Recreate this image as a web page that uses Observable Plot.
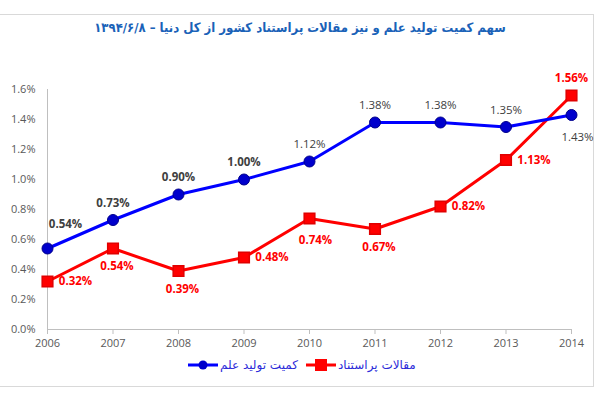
<!DOCTYPE html>
<html>
<head>
<meta charset="utf-8">
<script src="https://cdn.jsdelivr.net/npm/d3@7"></script>
<script src="https://cdn.jsdelivr.net/npm/@observablehq/plot@0.6"></script>
<style>
  html, body { margin: 0; padding: 0; background: #fff; }
  #wrap { position: relative; width: 600px; height: 400px; overflow: hidden; }
  #frame { position: absolute; left: -1px; top: 14px; width: 595px; height: 373px; border: 1px solid #d9d9d9; box-sizing: border-box; }
  #title { position: absolute; left: 0; top: 20px; width: 600px; text-align: center; direction: rtl;
           font-family: "DejaVu Sans Condensed", "DejaVu Sans", sans-serif; font-weight: bold; font-size: 13px; color: #1a62b8; }
  #chart { position: absolute; left: 0; top: 55px; }
  #legend { position: absolute; top: 357px; left: 0; width: 600px; height: 20px;
            font-family: "DejaVu Sans", sans-serif; font-size: 12px; color: #2b2bd9; }
  .item { position: absolute; top: 0; display: flex; align-items: center; direction: ltr; }
</style>
</head>
<body>
<div id="wrap">
  <div id="frame"></div>
  <div id="title">سهم کمیت تولید علم و نیز مقالات پراستناد کشور از کل دنیا – ۱۳۹۴/۶/۸</div>
  <div id="chart"></div>
  <div id="legend"></div>
</div>
<script>
const years = [2006, 2007, 2008, 2009, 2010, 2011, 2012, 2013, 2014];
const scienceOutput = [0.54, 0.73, 0.90, 1.00, 1.12, 1.38, 1.38, 1.35, 1.43];
const highlyCited = [0.32, 0.54, 0.39, 0.48, 0.74, 0.67, 0.82, 1.13, 1.56];
const yTicks = [0, 0.2, 0.4, 0.6, 0.8, 1.0, 1.2, 1.4, 1.6];
const seriesNames = ["کمیت تولید علم", "مقالات پراستناد"];

// label placement (annotation layout, separate from data)
const blueLabelPlace = ["ne", "n", "n", "n", "n", "n", "n", "n", "se"];
const redLabelPlace = ["e", "s", "s", "e", "se", "s", "e", "e", "n"];
const blueLabelBold = [true, true, true, true, false, false, false, false, false];
const offsets = {
  n: [0, -17], s: [4, 18], e: [28, 0], ne: [18, -24], se: [6, 22]
};

const blue = years.map((y, i) => ({year: y, value: scienceOutput[i], place: blueLabelPlace[i], bold: blueLabelBold[i]}));
const red = years.map((y, i) => ({year: y, value: highlyCited[i], place: redLabelPlace[i], bold: true}));

const fmt = v => v.toFixed(2) + "%";
const labelMarks = (data, opts) => Object.keys(offsets).flatMap(p => [true, false].map(b =>
  Plot.text(data.filter(d => d.place === p && d.bold === b), {
    x: "year", y: "value", text: d => fmt(d.value),
    dx: offsets[p][0], dy: offsets[p][1], fontWeight: b ? "bold" : "normal", ...opts
  })
));

const chart = Plot.plot({
  width: 600,
  height: 300,
  marginLeft: 47,
  marginRight: 29,
  marginTop: 34,
  marginBottom: 26,
  style: { fontFamily: "'Open Sans', 'Liberation Sans', sans-serif", background: "transparent" },
  x: { type: "linear", domain: [2006, 2014], label: null },
  y: { domain: [0, 1.6], label: null },
  marks: [
    Plot.ruleX([2006], { stroke: "#bfbfbf" }),
    Plot.ruleY([0], { stroke: "#bfbfbf" }),
    Plot.axisY({ ticks: yTicks, tickFormat: d => d.toFixed(1) + "%", tickSize: 0, tickPadding: 12,
                 fontSize: 11, color: "#595959", label: null }),
    Plot.axisX({ ticks: years, tickFormat: d => String(d), tickSize: 5, tickPadding: 5,
                 fontSize: 11, color: "#595959", stroke: "#bfbfbf", label: null }),
    Plot.line(red, { x: "year", y: "value", stroke: "#ff0000", strokeWidth: 3 }),
    Plot.dot(red, { x: "year", y: "value", symbol: "square", r: 6, fill: "#ff0000", stroke: "#e00000" }),
    Plot.line(blue, { x: "year", y: "value", stroke: "#0000ff", strokeWidth: 3 }),
    Plot.dot(blue, { x: "year", y: "value", symbol: "circle", r: 5.5, fill: "#0000cc", stroke: "#00008b", strokeWidth: 1 }),
    ...labelMarks(blue, { fill: "#404040", fontSize: 11.5 }),
    ...labelMarks(red, { fill: "#ff0000", fontSize: 11.5 })
  ]
});
document.getElementById("chart").appendChild(chart);

// legend
const legend = document.getElementById("legend");
const items = [
  { name: seriesNames[0], color: "#0000ff", marker: "circle", left: 188 },
  { name: seriesNames[1], color: "#ff0000", marker: "square", left: 306 }
];
items.forEach(it => {
  const div = document.createElement("div");
  div.className = "item";
  div.style.left = it.left + "px";
  const m = it.marker === "circle"
    ? `<circle cx="15" cy="8" r="4.5" fill="#0000cc"/>`
    : `<rect x="9" y="2" width="12" height="12" fill="#ff0000"/>`;
  div.innerHTML = `<svg width="30" height="16"><line x1="0" y1="8" x2="30" y2="8" stroke="${it.color}" stroke-width="3"/>${m}</svg>` +
    `<span style="direction:rtl;margin-left:2px">${it.name}</span>`;
  legend.appendChild(div);
});
</script>
</body>
</html>
